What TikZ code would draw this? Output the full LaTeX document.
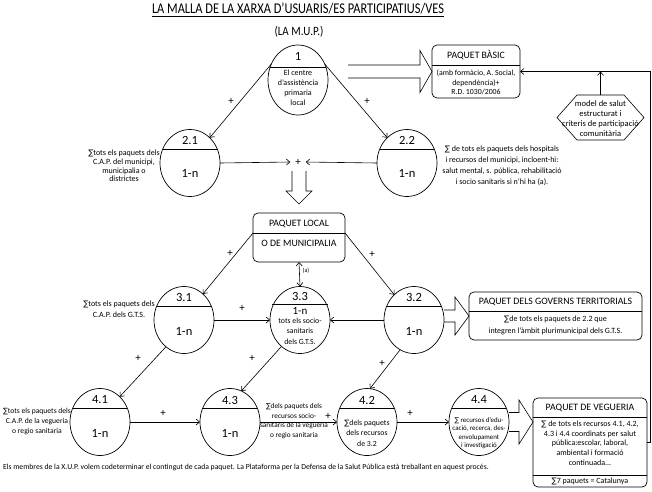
\documentclass[tikz,border=0pt]{standalone}
\usepackage{fontspec}
\setmainfont{Carlito}
\newfontfamily\mupsym{DejaVu Sans}
\newcommand\sumsym{{\mupsym\scalebox{0.95}{∑}}}
\usetikzlibrary{shapes.geometric,arrows.meta,calc}
\newcommand\mupchord[1]{\draw ($(#1.center)+(-27.25pt,14pt)$) -- ($(#1.center)+(27.25pt,14pt)$);}
\begin{document}
\begin{tikzpicture}[x=1pt,y=-1pt,line width=0.6pt,
  every node/.style={inner sep=0pt,outer sep=0pt},
  arr/.style={-{Straight Barb[length=3.5pt,width=6pt]}},
  arrtwo/.style={{Straight Barb[length=3.5pt,width=6pt]}-{Straight Barb[length=3.5pt,width=6pt]}},
  circ/.style={ellipse,draw,line width=0.7pt,minimum width=60pt,minimum height=67pt},
  num/.style={font=\fontsize{12.5}{12.5}\selectfont},
  ttl/.style={font=\fontsize{9.8}{9.8}\selectfont},
  pls/.style={font=\fontsize{11}{11}\selectfont},
  txt/.style={align=center,font=\fontsize{8}{#1}\selectfont},
  mupbox/.style={draw,rounded corners=5pt,line width=0.7pt},
  fatH/.style n args={3}{to path={let \p1=(\tikztostart),\p2=(\tikztotarget) in
    (\x1,\y2+#1) -- (\x2-#3,\y2+#1) -- (\x2-#3,\y2+#2) -- (\x2,\y2) -- (\x2-#3,\y2-#2) -- (\x2-#3,\y2-#1) -- (\x1,\y2-#1)}},
  fatV/.style n args={3}{to path={let \p1=(\tikztostart),\p2=(\tikztotarget) in
    (\x2+#1,\y1) -- (\x2+#1,\y2+#3) -- (\x2+#2,\y2+#3) -- (\x2,\y2) -- (\x2-#2,\y2+#3) -- (\x2-#1,\y2+#3) -- (\x2-#1,\y1)}},
]
\useasboundingbox (0,0) rectangle (652,491);

% titles
\node[font=\fontsize{12.4}{12.4}\selectfont] (title) at (298,10) {\underline{\scalebox{1}[1.2]{LA MALLA DE LA XARXA D'USUARIS/ES PARTICIPATIUS/VES}}};
\node[font=\fontsize{11}{11}\selectfont] (sub) at (299,32) {\scalebox{1}[1.15]{(LA M.U.P.)}};

% node 1
\node[circ,minimum height=70pt] (n1) at (298,80) {};
\draw ($(n1.center)+(-27.9pt,13pt)$) -- ($(n1.center)+(27.9pt,13pt)$);
\node[num] (n1n) at (298,56) {1};
\node[align=center,font=\fontsize{8}{10}\selectfont] (n1t) at (298,88) {El centre\\d'assistència\\primaria\\local};

% level 2
\node[circ] (n21) at (190,163) {};
\mupchord{n21}
\node[num] (n21n) at (190,140) {2.1};
\node[num] (n21m) at (190,173) {1-n};
\node[txt=8.8] (t21) at (124,166) {\sumsym tots els paquets dels\\C.A.P. del municipi,\\municipalia o\\districtes};

\node[circ] (n22) at (407,163) {};
\mupchord{n22}
\node[num] (n22n) at (407,140) {2.2};
\node[num] (n22m) at (407,173) {1-n};
\node[txt=11] (t22) at (502,165.5) {\sumsym{} de tots els paquets dels hospitals\\i recursos del municipi, incloent-hi:\\salut mental, s. pública, rehabilitació\\i socio sanitaris si n'hi ha (a).};

\node[pls,inner sep=5pt] (pl) at (298,162) {+};

% paquet basic
\node[mupbox,minimum width=88pt,minimum height=53pt] (basic) at (476,71.5) {};
\draw (basic.west |- 0,65) -- (basic.east |- 0,65);
\node[ttl] (basict) at (476,55.5) {PAQUET BÀSIC};
\node[align=center,font=\fontsize{7.8}{9.5}\selectfont] (basicb) at (476,82.5) {(amb formàcio, A. Social,\\dependència)+\\R.D. 1030/2006};

% hexagon
\node[minimum width=87pt,minimum height=45pt] (hex) at (600.5,117.5) {};
\draw (hex.west) -- ($(hex.north west)+(20pt,0pt)$) -- ($(hex.north east)+(-20pt,0pt)$) -- (hex.east) -- ($(hex.south east)+(-20pt,0pt)$) -- ($(hex.south west)+(20pt,0pt)$) -- cycle;
\node[align=center,font=\fontsize{8.5}{10}\selectfont] (hext) at (600.5,118.5) {model de salut\\estructurat i\\criteris de participació\\comunitària};

% paquet local
\node[mupbox,minimum width=92pt,minimum height=49pt] (local) at (299,237.5) {};
\draw (local.west |- 0,233) -- (local.east |- 0,233);
\node[ttl] (localt) at (299,223.5) {PAQUET LOCAL};
\node[ttl] (localb) at (299,243.5) {O DE MUNICIPALIA};

% level 3
\node[circ] (n31) at (184,320) {};
\mupchord{n31}
\node[num] (n31n) at (184,297) {3.1};
\node[num] (n31m) at (184,331) {1-n};
\node[txt=11] (t31) at (119,309) {\sumsym tots els paquets dels\\C.A.P. dels G.T.S.};

\node[circ] (n33) at (300,320) {};
\draw ($(n33.center)+(-28.2pt,16pt)$) -- ($(n33.center)+(28.2pt,16pt)$);
\node[num] (n33n) at (300,296) {3.3};
\node[font=\fontsize{11}{11}\selectfont] (n33m) at (300,311) {1-n};
\node[align=center,font=\fontsize{7.8}{10.5}\selectfont] (t33) at (300,331) {tots els socio-\\sanitaris\\dels G.T.S.};

\node[circ] (n32) at (414,320) {};
\mupchord{n32}
\node[num] (n32n) at (414,297) {3.2};
\node[num] (n32m) at (414,331) {1-n};

% paquet governs
\node[mupbox,minimum width=173pt,minimum height=48pt] (gov) at (555.5,316) {};
\draw (gov.west |- 0,311) -- (gov.east |- 0,311);
\node[ttl] (govt) at (555.5,301.5) {PAQUET DELS GOVERNS TERRITORIALS};
\node[txt=12] (govb) at (555.5,325) {\sumsym de tots els paquets de 2.2 que\\integren l'àmbit plurimunicipal dels G.T.S.};

% level 4
\node[circ] (n41) at (100,422) {};
\mupchord{n41}
\node[num] (n41n) at (100,400) {4.1};
\node[num] (n41m) at (100,433) {1-n};
\node[align=center,font=\fontsize{7.6}{10}\selectfont] (t41) at (37,422) {\sumsym tots els paquets dels\\C.A.P. de la vegueria\\o regio sanitaria};

\node[circ] (n43) at (230,422) {};
\mupchord{n43}
\node[num] (n43n) at (230,400) {4.3};
\node[num] (n43m) at (230,433) {1-n};
\node[align=center,font=\fontsize{7.3}{9.5}\selectfont] (t43) at (294,421) {\sumsym dels paquets dels\\recursos socio-\\sanitaris de la vegueria\\o regio sanitaria};

\node[circ] (n42) at (367,422) {};
\mupchord{n42}
\node[num] (n42n) at (367,400) {4.2};
\node[align=center,font=\fontsize{7.8}{10.5}\selectfont] (t42) at (367,433) {\sumsym dels paquets\\dels recursos\\de 3.2};

\node[circ] (n44) at (479,422) {};
\mupchord{n44}
\node[num] (n44n) at (479,400) {4.4};
\node[align=center,font=\fontsize{6.9}{8.4}\selectfont] (t44) at (479,433) {\sumsym{} recursos d'edu-\\cació, recerca, des-\\envolupament\\i investigació};

% paquet vegueria
\node[mupbox,minimum width=114pt,minimum height=89pt] (veg) at (590,442.5) {};
\draw (veg.west |- 0,417) -- (veg.east |- 0,417);
\draw (veg.west |- 0,475) -- (veg.east |- 0,475);
\node[ttl] (vegt) at (590,407.5) {PAQUET DE VEGUERIA};
\node[txt=9.7] (vegb) at (590,443) {\sumsym{} de tots els recursos 4.1, 4.2,\\4.3 i 4.4 coordinats per salut\\pública:escolar, laboral,\\ambiental i formació\\continuada...};
\node[txt=9] (vegf) at (590,481) {\sumsym 7 paquets = Catalunya};

% footer
\node[anchor=west,font=\fontsize{7.7}{7.7}\selectfont] (foot) at (3,467) {Els membres de la X.U.P. volem codeterminar el contingut de cada paquet. La Plataforma per la Defensa de la Salut Pública està treballant en aquest procés.};

% plus signs
\node[pls] (p1) at (231,101) {+};
\node[pls] (p2) at (367,101) {+};
\node[pls] (p3) at (230,253) {+};
\node[pls] (p4) at (372,254) {+};
\node[pls] (p5) at (242,308) {+};
\node[pls] (p6) at (138,358) {+};
\node[pls] (p7) at (252,358) {+};
\node[pls] (p8) at (382,363) {+};
\node[pls] (p9) at (163,413) {+};
\node[pls] (p10) at (328,416) {+};
\node[pls] (p11) at (410,413) {+};
\node[font=\fontsize{6}{6}\selectfont] (alab) at (306,271) {(a)};

% connectors
\draw[arr] (n1.149) -- (n21.52);
\draw[arr] (n1.31) -- (n22.128);
\draw[arr] (n21.east) -- (pl.west);
\draw[arr] (n22.west) -- (pl.east);
\draw[fatV={7pt}{13pt}{13pt}] ([yshift=-9pt]pl.center) to ([yshift=9pt]local.north);
\draw[fatH={6.5pt}{21pt}{12pt}] ([xshift=20pt]n1.east) to (basic.west);
\draw[arr] (veg.east) -- ++(3,0) |- (basic.east);
\draw[arr] (hex.north) -- (hex.north |- basic.east);

\draw[arr] ([yshift=4.5pt]local.west) -- (n31.54);
\draw[arr] ([yshift=4.5pt]local.east) -- (n32.128);
\draw[arrtwo] (local.south) -- (n33.north);
\draw[arr] (n31.east) -- (n33.west);
\draw[arr] (n32.west) -- (n33.east);
\draw[fatH={6pt}{19pt}{14pt}] (n32.east) to (gov.west);

\draw[arr] (n31.236) -- (n41.52);
\draw[arr] (n33.235) -- (n43.70);
\draw[arr] (n32.245) -- (n42.85);
\draw[arr] (n41.east) -- (n43.west);
\draw[arr] (n43.east) -- (n42.west);
\draw[arr] (n42.east) -- (n44.west);
\draw[fatH={9.5pt}{22pt}{14pt}] (n44.east) to (veg.west |- n44.east);
\end{tikzpicture}
\end{document}
